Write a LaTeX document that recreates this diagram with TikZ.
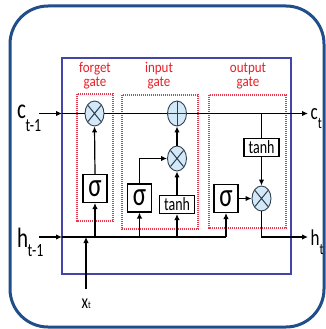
\documentclass[tikz,border=0pt]{standalone}
\usepackage{fontspec}
\setmainfont{Carlito}
\usetikzlibrary{arrows.meta,shapes.geometric}
\definecolor{frameblue}{HTML}{1F4E8A}
\definecolor{cellblue}{HTML}{4444AA}
\definecolor{gatered}{HTML}{E8202A}
\definecolor{dotred}{HTML}{E8384F}
\definecolor{opfill}{HTML}{D4E9F7}
\definecolor{opline}{HTML}{2F3F50}
\newcommand\tall[1]{\scalebox{1}[1.33]{#1}}
\begin{document}
\begin{tikzpicture}[x=1pt,y=-1pt,
 conn/.style={line width=1.2pt, draw=black},
 arr/.style={conn, -{Latex[length=6pt,width=5.5pt]}},
 opnode/.style={ellipse, draw=opline, fill=opfill, line width=0.9pt, minimum width=19pt, minimum height=25pt, inner sep=0pt},
 mulop/.style={opnode, path picture={\draw[opline, line width=1pt] ([shift={(-6.5pt,-8pt)}]path picture bounding box.center) -- ([shift={(6.5pt,8pt)}]path picture bounding box.center) ([shift={(-6.5pt,8pt)}]path picture bounding box.center) -- ([shift={(6.5pt,-8pt)}]path picture bounding box.center);}},
 addop/.style={opnode, path picture={\draw[opline, line width=1pt] (path picture bounding box.north) -- (path picture bounding box.south) (path picture bounding box.west) -- (path picture bounding box.east);}},
 sigbox/.style={draw=black, fill=white, line width=1.1pt, minimum width=24pt, minimum height=28pt, inner sep=0pt, font=\fontsize{25}{25}\selectfont},
 tanhbox/.style={draw=black, fill=white, line width=1.1pt, minimum width=35pt, minimum height=18pt, inner sep=0pt, font=\fontsize{14}{14}\selectfont},
 gatebox/.style={draw=dotred, dash pattern=on 1.2pt off 0.8pt, line width=1.1pt},
 gatelbl/.style={text=gatered, inner sep=0pt, font=\fontsize{13}{12}\selectfont},
 bigl/.style={inner sep=0pt, anchor=base west, font=\fontsize{21}{21}\selectfont},
 midl/.style={inner sep=0pt, anchor=base west, font=\fontsize{17}{17}\selectfont},
 xl/.style={inner sep=0pt, anchor=base west, font=\fontsize{15}{15}\selectfont}
]
\useasboundingbox (0,0) rectangle (326,329);
\fill[white] (0,0) rectangle (326,329);
% frames
\draw[frameblue, line width=3pt, rounded corners=38pt] (10,6) rectangle (324,327);
\draw[cellblue, line width=1.8pt] (62,58) rectangle (291,274);
% gate boxes
\draw[gatebox] (77,94) rectangle (113,221);
\draw[gatebox] (122,95) rectangle (198,229);
\draw[gatebox] (209,95) rectangle (286,228);
\node[gatelbl] (gf) at (95,76.5) {\scalebox{1}[1.15]{\begin{tabular}{@{}c@{}}forget\\gate\end{tabular}}};
\node[gatelbl] (gi) at (159,76.5) {\scalebox{1}[1.15]{\begin{tabular}{@{}c@{}}input\\gate\end{tabular}}};
\node[gatelbl] (go) at (248,76.5) {\scalebox{1}[1.15]{\begin{tabular}{@{}c@{}}output\\gate\end{tabular}}};
% operation nodes
\node[mulop] (fx) at (94.5,113.5) {};
\node[sigbox] (fs) at (95,188.5) {\tall{σ}};
\node[sigbox] (is) at (139.5,198) {\tall{σ}};
\node[tanhbox] (it) at (177,204.5) {\tall{tanh}};
\node[mulop] (ix) at (177,158.5) {};
\node[addop] (ip) at (177,113.5) {};
\node[sigbox] (os) at (226,198.5) {\tall{σ}};
\node[mulop] (ox) at (261.5,198.5) {};
\node[tanhbox] (ot) at (261.5,147.5) {\tall{tanh}};
% end points
\coordinate (cin) at (39,113.5);
\coordinate (cedge) at (62,113.5);
\coordinate (ct) at (308,113.5);
\coordinate (hin) at (39,237);
\coordinate (hedge) at (62,237);
\coordinate (ht) at (308,237);
\coordinate (xin) at (86,289);
% c line
\draw[arr] (cin) -- (cedge);
\draw[conn] (cedge) -- (fx.west);
\draw[conn] (fx.east) -- (ip.west);
\draw[arr] (ip.east) -- (ct);
% h line
\draw[arr] (hin) -- (hedge);
\draw[conn] (hedge) -- (os.south |- hedge);
\draw[arr] (xin) -- (xin |- hedge);
\draw[arr] (fs.south |- hedge) -- (fs.south);
\draw[arr] (is.south |- hedge) -- (is.south);
\draw[arr] (it.south |- hedge) -- (it.south);
\draw[arr] (os.south |- hedge) -- (os.south);
% forget gate
\draw[arr] (fs.north) -- (fx.south);
% input gate
\draw[arr] (is.north) |- (ix.west);
\draw[arr] (it.north) -- (ix.south);
\draw[arr] (ix.north) -- (ip.south);
% output gate
\draw[conn] (ot.north |- ct) -- (ot.north);
\draw[arr] (ot.south) -- (ox.north);
\draw[arr] (os.east) -- (ox.west);
\draw[arr] (ox.south) |- (ht);
% labels
\node[bigl] (lc1) at (17,118) {\tall{c\kern-0.5pt\raisebox{-10pt}{\fontsize{14}{14}\selectfont t-1}}};
\node[bigl] (lh1) at (17,247) {\tall{h\kern-0.5pt\raisebox{-7.5pt}{\fontsize{14}{14}\selectfont t-1}}};
\node[midl] (lct) at (310.5,119) {\tall{c\raisebox{-7pt}{\fontsize{12}{12}\selectfont t}}};
\node[midl] (lht) at (310.5,245) {\tall{h\raisebox{-7.5pt}{\fontsize{12}{12}\selectfont t}}};
\node[xl] (lx) at (81.5,308) {\tall{x\fontsize{8}{8}\selectfont t}};
\end{tikzpicture}
\end{document}
